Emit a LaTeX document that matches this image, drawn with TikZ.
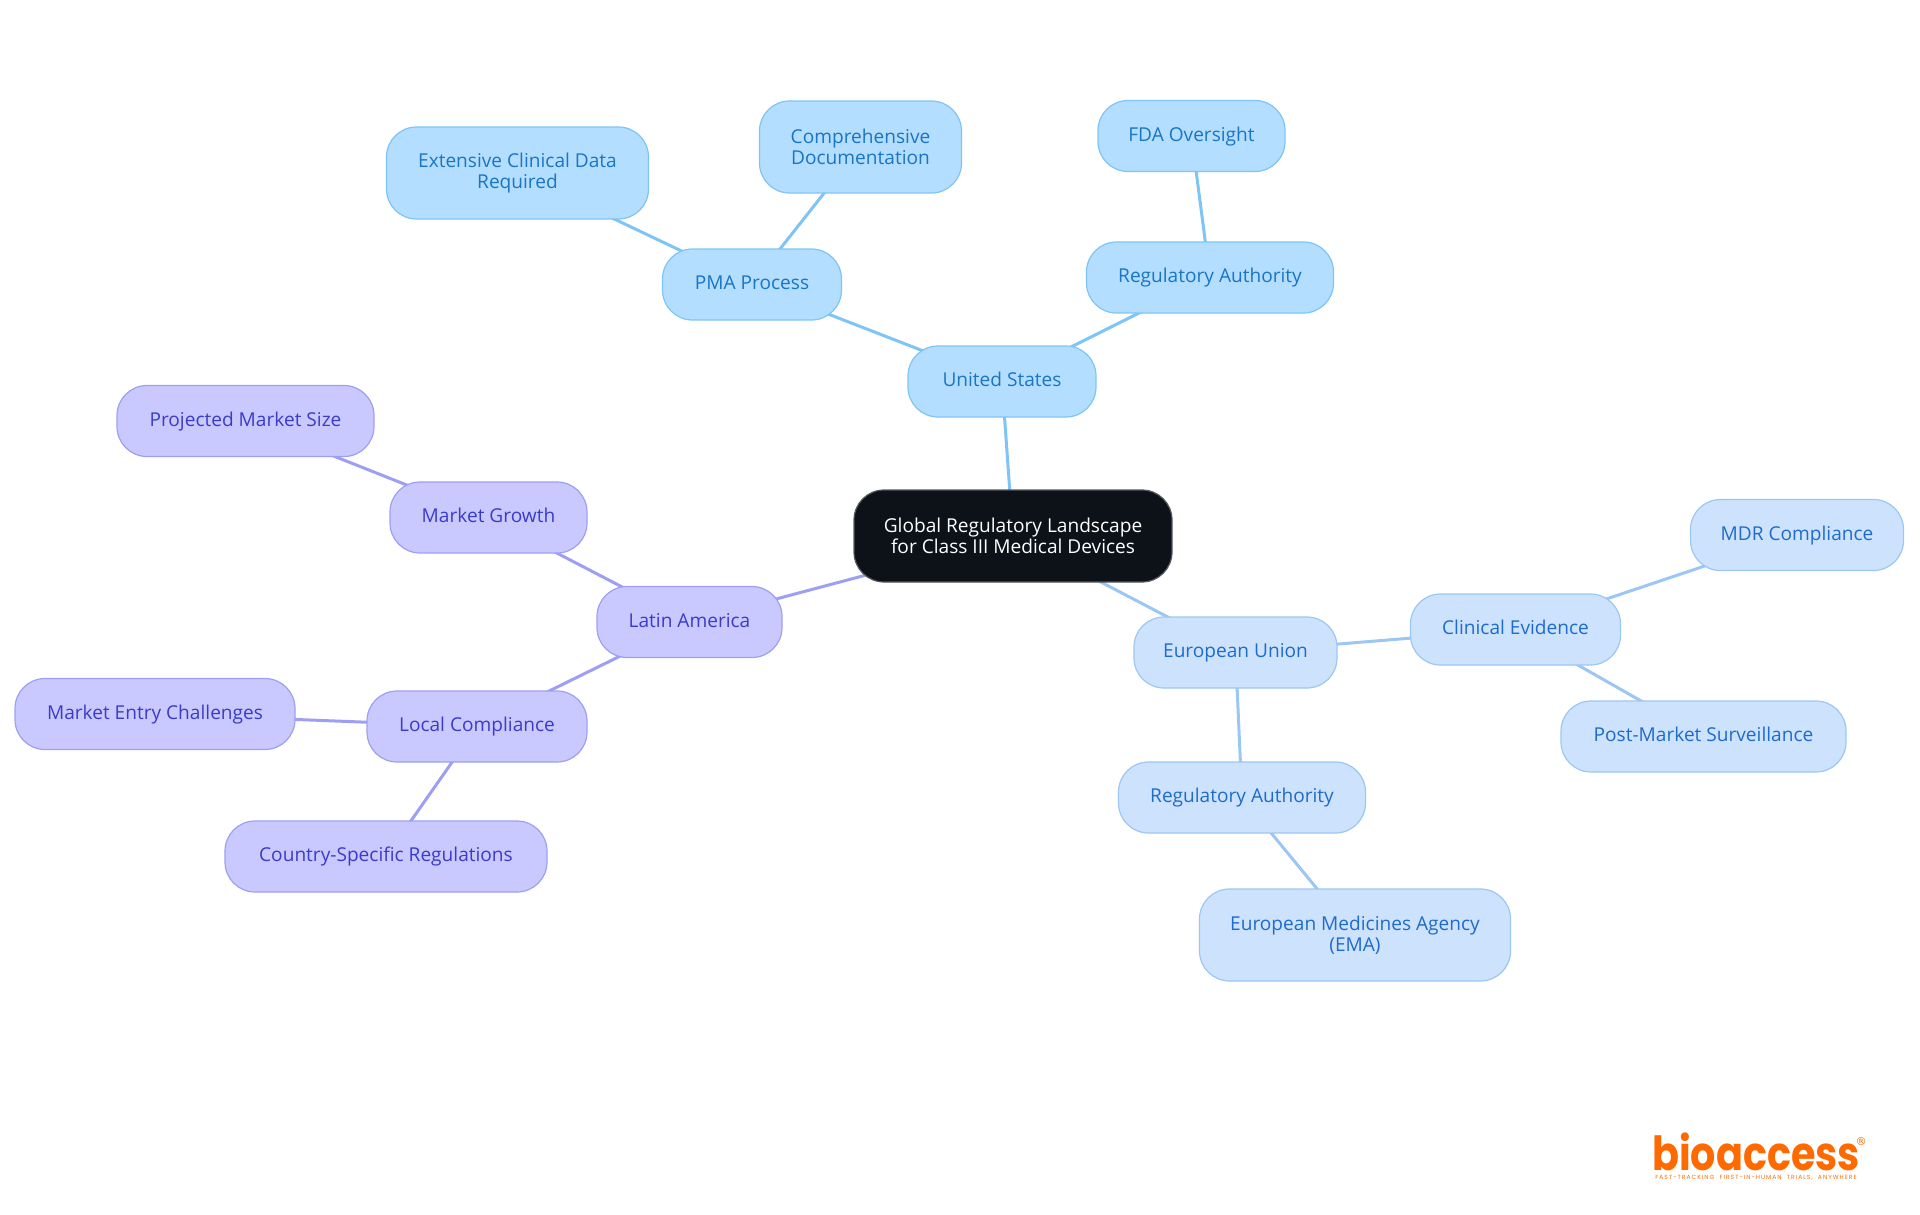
\documentclass[tikz,border=0pt]{standalone}
\usepackage{fontspec}
\setmainfont{Open Sans}
\newfontfamily\logofont[FakeStretch=0.845]{Poppins}
\newfontfamily\regfont{DejaVu Sans}
\newfontfamily\tagfont[LetterSpace=17,WordSpace=2]{Poppins}
\usepackage{tikz}
\usetikzlibrary{positioning,backgrounds}
\definecolor{usfill}{HTML}{B3DEFF}
\definecolor{usdraw}{HTML}{7EC4F5}
\definecolor{ustext}{HTML}{1A75C4}
\definecolor{eufill}{HTML}{CDE3FD}
\definecolor{eudraw}{HTML}{9CC6F3}
\definecolor{eutext}{HTML}{1F6BCB}
\definecolor{lafill}{HTML}{C9C9FF}
\definecolor{ladraw}{HTML}{9E9EF5}
\definecolor{latext}{HTML}{3B3BCB}
\definecolor{rootfill}{HTML}{0D1219}
\definecolor{logoorange}{HTML}{FF6A00}
\tikzset{
  mapbox/.style={rectangle, draw, rounded corners=30pt, line width=1.2pt, inner sep=0pt, outer sep=0pt, minimum height=71pt,
                 text height=14pt, text depth=3.5pt, align=center, font=\fontsize{19.1}{21}\selectfont},
  tallbox/.style={minimum height=92pt, text height=, text depth=},
  rootbox/.style={mapbox, tallbox, draw=rootfill!70!white, fill=rootfill, text=white},
  usbox/.style={mapbox, draw=usdraw, fill=usfill, text=ustext},
  eubox/.style={mapbox, draw=eudraw, fill=eufill, text=eutext},
  labox/.style={mapbox, draw=ladraw, fill=lafill, text=latext},
  usline/.style={draw=usdraw, line width=3pt},
  euline/.style={draw=eudraw, line width=3pt},
  laline/.style={draw=ladraw, line width=3pt},
}
\begin{document}
\begin{tikzpicture}
\useasboundingbox (0,0) rectangle (1920pt,-1215pt);
%Nodes
\node[rootbox, minimum width=318pt] (root) at (1013pt,-536pt) {Global Regulatory Landscape\\for Class III Medical Devices};
\node[usbox, minimum width=188pt] (us) [above=73pt of root, xshift=-11pt] {United States};
\node[usbox, minimum width=179pt] (pma) [above=26pt of us, xshift=-250pt] {PMA Process};
\node[usbox, tallbox, minimum width=262pt] (clinical) [above=30pt of pma, xshift=-234.5pt] {Extensive Clinical Data\\Required};
\node[usbox, tallbox, minimum width=202pt] (docs) [above=56pt of pma, xshift=108.5pt] {Comprehensive\\Documentation};
\node[usbox, minimum width=247pt] (usauth) [above=33pt of us, xshift=208pt] {Regulatory Authority};
\node[usbox, minimum width=187pt] (fda) [above=70.5pt of usauth, xshift=-18.5pt] {FDA Oversight};
\node[eubox, minimum width=203pt] (eu) [below=35pt of root, xshift=222.5pt] {European Union};
\node[eubox, minimum width=210pt] (evidence) [right=73.5pt of eu, yshift=23pt] {Clinical Evidence};
\node[eubox, minimum width=213pt] (mdr) [right=70pt of evidence, yshift=94.5pt] {MDR Compliance};
\node[eubox, minimum width=285pt] (postmarket) [below=36pt of evidence, xshift=188pt] {Post-Market Surveillance};
\node[eubox, minimum width=247pt] (euauth) [below=74pt of eu, xshift=6.5pt] {Regulatory Authority};
\node[eubox, tallbox, minimum width=311pt] (ema) [below=56pt of euauth, xshift=113pt] {European Medicines Agency\\(EMA)};
\node[labox, minimum width=185pt] (latam) [left=72pt of root, yshift=-86pt] {Latin America};
\node[labox, minimum width=197pt] (growth) [above=33.5pt of latam, xshift=-201pt] {Market Growth};
\node[labox, minimum width=257pt] (size) [above=25.5pt of growth, xshift=-243pt] {Projected Market Size};
\node[labox, minimum width=220pt] (local) [below=33.5pt of latam, xshift=-212.5pt] {Local Compliance};
\node[labox, minimum width=280pt] (entry) [left=72pt of local, yshift=12.5pt] {Market Entry Challenges};
\node[labox, minimum width=322pt] (country) [below=59pt of local, xshift=-91pt] {Country-Specific Regulations};
%Logo
\node[text=logoorange, font=\logofont\bfseries\fontsize{47}{47}\selectfont, inner sep=0pt] (logo) at (1756pt,-1152pt) {bioaccess};
\node[text=logoorange, font=\tagfont\fontsize{6}{6}\selectfont, inner sep=0pt] (logotag) [below=4pt of logo] {FAST-TRACKING FIRST-IN-HUMAN TRIALS, ANYWHERE};
\node[text=logoorange, font=\regfont\fontsize{11}{11}\selectfont, inner sep=0pt] (logoreg) at (1861pt,-1142pt) {®};
%Lines
\begin{scope}[on background layer]
\draw[usline] (root.center) -- (us.center);
\draw[usline] (us.center) -- (pma.center);
\draw[usline] (pma.center) -- (clinical.center);
\draw[usline] (pma.center) -- (docs.center);
\draw[usline] (us.center) -- (usauth.center);
\draw[usline] (usauth.center) -- (fda.center);
\draw[euline] (root.center) -- (eu.center);
\draw[euline] (eu.center) -- (evidence.center);
\draw[euline] (evidence.center) -- (mdr.center);
\draw[euline] (evidence.center) -- (postmarket.center);
\draw[euline] (eu.center) -- (euauth.center);
\draw[euline] (euauth.center) -- (ema.center);
\draw[laline] (root.center) -- (latam.center);
\draw[laline] (latam.center) -- (growth.center);
\draw[laline] (growth.center) -- (size.center);
\draw[laline] (latam.center) -- (local.center);
\draw[laline] (local.center) -- (entry.center);
\draw[laline] (local.center) -- (country.center);
\end{scope}
\end{tikzpicture}
\end{document}
